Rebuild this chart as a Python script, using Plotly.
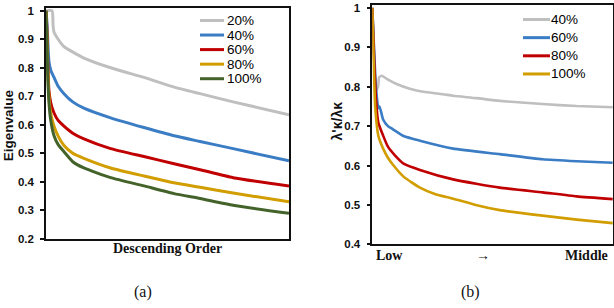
import plotly.graph_objects as go

# ---------------- data: panel (a) ----------------
a_labels = ["20%", "40%", "60%", "80%", "100%"]
a_colors = ["#BFBFBF", "#3B7DC4", "#C00000", "#D29D00", "#44632A"]

a_x_20 = [0, 2.5, 2.9, 3.3, 5, 7.4, 15.6, 26.6, 40.3, 52.7, 63.4, 77, 100]
a_y_20 = [1.0, 1.0, 0.95, 0.925, 0.90, 0.874, 0.834, 0.80, 0.766, 0.732, 0.709, 0.68, 0.635]

a_x_40 = [0, 0.3, 0.6, 1.2, 2.0, 3.3, 5, 7.4, 11, 15.6, 26.6, 40.3, 52.7, 63.4, 77, 100]
a_y_40 = [1.0, 0.97, 0.92, 0.823, 0.79, 0.766, 0.735, 0.709, 0.68, 0.658, 0.624, 0.59, 0.561, 0.541, 0.516, 0.473]

a_x_60 = [0, 0.3, 0.6, 1.2, 2.0, 3.3, 5, 7.4, 11, 15.6, 26.6, 40.3, 52.7, 63.4, 77, 100]
a_y_60 = [1.0, 0.95, 0.86, 0.72, 0.675, 0.641, 0.615, 0.595, 0.57, 0.55, 0.516, 0.488, 0.463, 0.442, 0.414, 0.385]

a_x_80 = [0, 0.3, 0.7, 1.2, 1.9, 3.3, 5, 7.4, 11, 15.6, 26.6, 40.3, 52.7, 63.4, 77, 100]
a_y_80 = [1.0, 0.93, 0.80, 0.70, 0.641, 0.595, 0.56, 0.527, 0.50, 0.482, 0.448, 0.42, 0.396, 0.38, 0.36, 0.329]

a_x_100 = [0, 0.3, 0.7, 1.2, 1.9, 3.3, 5, 7.4, 11, 15.6, 26.6, 40.3, 52.7, 63.4, 77, 100]
a_y_100 = [1.0, 0.92, 0.78, 0.68, 0.618, 0.561, 0.53, 0.505, 0.47, 0.448, 0.414, 0.385, 0.358, 0.341, 0.317, 0.289]

a_yticks = [0.2, 0.3, 0.4, 0.5, 0.6, 0.7, 0.8, 0.9, 1.0]
a_yticktext = ["0.2", "0.3", "0.4", "0.5", "0.6", "0.7", "0.8", "0.9", "1"]

# ---------------- data: panel (b) ----------------
b_labels = ["40%", "60%", "80%", "100%"]
b_colors = ["#BFBFBF", "#3B7DC4", "#C00000", "#D29D00"]

b_x_40 = [0, 0.7, 1.5, 2.4, 2.8, 3.9, 6, 10.1, 15.6, 21.2, 29.3, 33.6, 43.3, 53, 70.8, 85, 100]
b_y_40 = [1.0, 0.90, 0.79, 0.80, 0.823, 0.828, 0.82, 0.807, 0.795, 0.787, 0.781, 0.777, 0.771, 0.764, 0.756, 0.751, 0.748]

b_x_60 = [0, 0.7, 1.5, 2.5, 3.0, 4.5, 6.5, 8.6, 13, 19.8, 33.6, 53, 70.8, 85, 100]
b_y_60 = [1.0, 0.90, 0.80, 0.746, 0.75, 0.717, 0.70, 0.692, 0.675, 0.663, 0.643, 0.629, 0.616, 0.611, 0.607]

b_x_80 = [0, 0.7, 1.5, 2.5, 4.5, 6.5, 9.4, 13, 19.8, 33.6, 53, 70.8, 85, 100]
b_y_80 = [1.0, 0.88, 0.77, 0.709, 0.676, 0.648, 0.626, 0.605, 0.589, 0.565, 0.544, 0.532, 0.522, 0.515]

b_x_100 = [0, 0.6, 1.2, 2.5, 4.5, 6.5, 8.6, 13, 19.8, 26, 33.6, 43, 53, 70.8, 85, 100]
b_y_100 = [1.0, 0.86, 0.75, 0.676, 0.643, 0.62, 0.602, 0.572, 0.544, 0.528, 0.516, 0.50, 0.487, 0.473, 0.463, 0.454]

b_yticks = [0.4, 0.5, 0.6, 0.7, 0.8, 0.9, 1.0]
b_yticktext = ["0.4", "0.5", "0.6", "0.7", "0.8", "0.9", "1"]
b_xtickvals = [7.3, 46, 89]
b_xticktext = ["Low", "\u2192", "Middle"]

# ---------------- figure ----------------
W, H = 614, 308
px = lambda v: v / W
py = lambda v: 1 - v / H

fig = go.Figure()

a_series = [(a_x_20, a_y_20), (a_x_40, a_y_40), (a_x_60, a_y_60), (a_x_80, a_y_80), (a_x_100, a_y_100)]
for (xs, ys), lab, col in zip(a_series, a_labels, a_colors):
    fig.add_trace(go.Scatter(x=xs, y=ys, mode="lines", name=lab, xaxis="x", yaxis="y",
                             line=dict(color=col, width=3, shape="spline", smoothing=0.5),
                             showlegend=False))

b_series = [(b_x_40, b_y_40), (b_x_60, b_y_60), (b_x_80, b_y_80), (b_x_100, b_y_100)]
for (xs, ys), lab, col in zip(b_series, b_labels, b_colors):
    fig.add_trace(go.Scatter(x=xs, y=ys, mode="lines", name=lab, xaxis="x2", yaxis="y2",
                             line=dict(color=col, width=2.6, shape="spline", smoothing=0.5),
                             showlegend=False))

tickfont = dict(family="Liberation Sans", size=11.5, color="#111", weight="bold")
axcommon = dict(showline=True, mirror=True, linecolor="#111", linewidth=1.5,
                showgrid=False, zeroline=False)

fig.update_layout(
    width=W, height=H, margin=dict(l=0, r=0, t=0, b=0),
    paper_bgcolor="white", plot_bgcolor="white",
    xaxis=dict(domain=[px(46), px(289)], range=[0, 100], showticklabels=False, ticks="", anchor="y", **axcommon),
    yaxis=dict(domain=[py(242.7), py(5)], range=[0.2, 1.0102], tickvals=a_yticks, ticktext=a_yticktext,
               ticks="outside", ticklen=4, tickwidth=1.5, tickcolor="#111", tickfont=tickfont,
               ticklabelstandoff=4, anchor="x", **axcommon),
    xaxis2=dict(domain=[px(372.3), px(612.8)], range=[0, 100], showticklabels=False,
                ticks="", anchor="y2", **axcommon),
    yaxis2=dict(domain=[py(248.7), py(2)], range=[0.4, 1.0074], tickvals=b_yticks, ticktext=b_yticktext,
                ticks="outside", ticklen=4, tickwidth=1.5, tickcolor="#111", tickfont=tickfont,
                ticklabelstandoff=4, anchor="x2", **axcommon),
)

ann = []
for xv, tx in zip(b_xtickvals, b_xticktext):
    ann.append(dict(text="<b>" + tx + "</b>", x=xv, y=py(260), xref="x2", yref="paper", showarrow=False,
                    xanchor="center", yanchor="middle",
                    font=dict(family="Liberation Serif", size=14, color="#111")))
ann.append(dict(text="<b>Descending Order</b>", x=px(167.5), y=py(253), xref="paper", yref="paper",
                showarrow=False, xanchor="center", yanchor="middle",
                font=dict(family="Liberation Serif", size=14, color="#111")))
ann.append(dict(text="<b>Eigenvalue</b>", x=px(8), y=py(126), xref="paper", yref="paper",
                showarrow=False, xanchor="center", yanchor="middle", textangle=-90,
                font=dict(family="Liberation Sans", size=13.5, color="#111")))
ann.append(dict(text="<b>\u03bb'\u03ba/\u03bb\u03ba</b>", x=px(337), y=py(122), xref="paper", yref="paper",
                showarrow=False, xanchor="center", yanchor="middle", textangle=-90,
                font=dict(family="Liberation Sans", size=14, color="#111")))
ann.append(dict(text="(a)", x=px(143), y=py(298), xref="paper", yref="paper", showarrow=False,
                xanchor="center", yanchor="middle", font=dict(family="Liberation Serif", size=16, color="#111")))
ann.append(dict(text="(b)", x=px(470), y=py(298), xref="paper", yref="paper", showarrow=False,
                xanchor="center", yanchor="middle", font=dict(family="Liberation Serif", size=16, color="#111")))

shapes = []
# legend (a)
for i, (lab, col) in enumerate(zip(a_labels, a_colors)):
    yy = 18 + 15 * i
    shapes.append(dict(type="line", xref="paper", yref="paper", x0=px(200), x1=px(224), y0=py(yy), y1=py(yy),
                       line=dict(color=col, width=3)))
    ann.append(dict(text=lab, x=px(225), y=py(yy), xref="paper", yref="paper", showarrow=False,
                    xanchor="left", yanchor="middle", font=dict(family="Liberation Sans", size=13.5, color="#000")))
# legend (b)
for i, (lab, col) in enumerate(zip(b_labels, b_colors)):
    yy = 17 + 18.7 * i
    shapes.append(dict(type="line", xref="paper", yref="paper", x0=px(523), x1=px(550), y0=py(yy), y1=py(yy),
                       line=dict(color=col, width=3)))
    ann.append(dict(text=lab, x=px(549), y=py(yy), xref="paper", yref="paper", showarrow=False,
                    xanchor="left", yanchor="middle", font=dict(family="Liberation Sans", size=13.5, color="#000")))

fig.update_layout(annotations=ann, shapes=shapes)
fig.write_html("out.html", config={"displayModeBar": False},
               post_script="document.body.style.margin='0';document.body.style.overflow='hidden';")
